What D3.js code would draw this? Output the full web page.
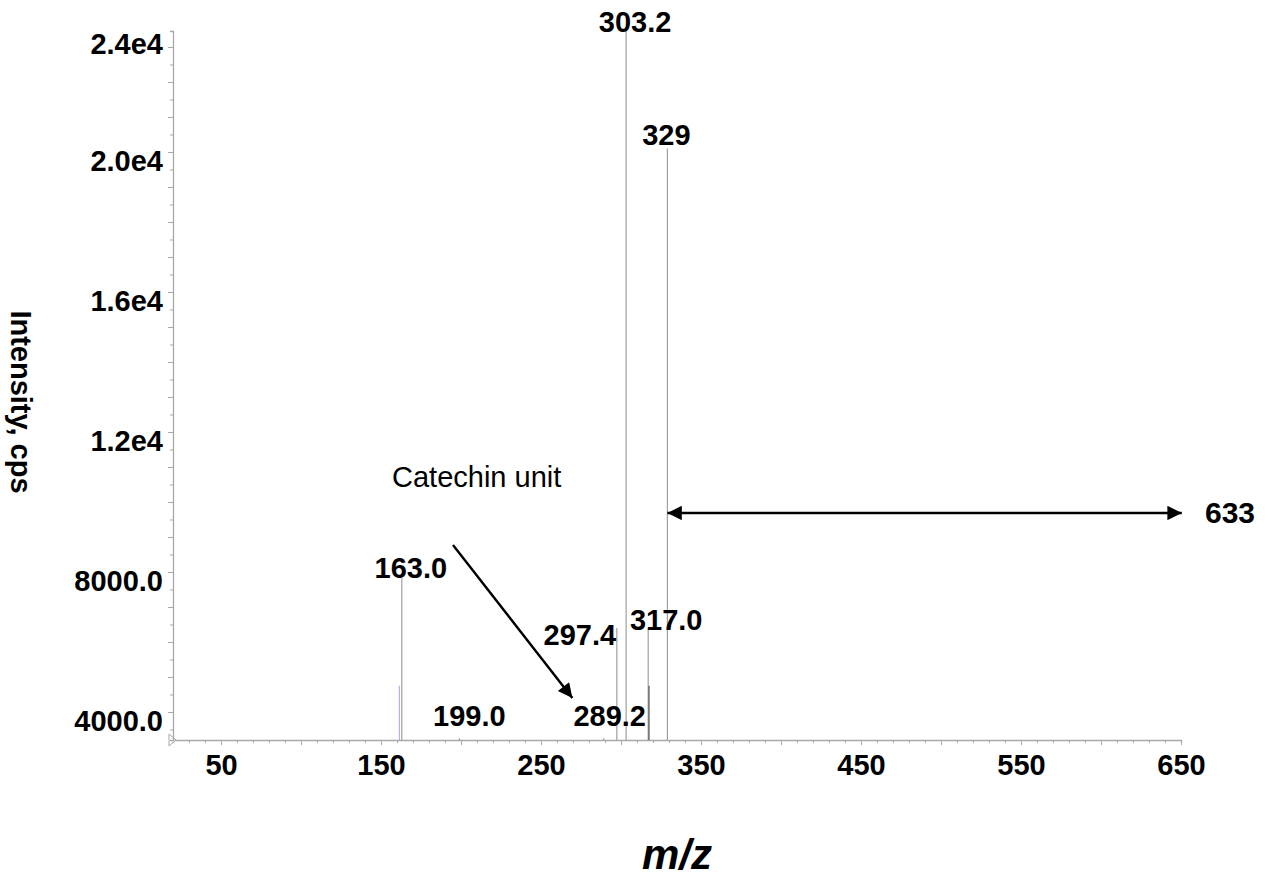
<!DOCTYPE html>
<html>
<head>
<meta charset="utf-8">
<script src="https://cdn.jsdelivr.net/npm/d3@7/dist/d3.min.js"></script>
<style>
  html, body { margin: 0; padding: 0; background: #fff; }
  svg { display: block; font-family: "Liberation Sans", Arial, sans-serif; }
</style>
</head>
<body>
<svg id="chart" width="1276" height="879"></svg>
<script>
// ---- data ----
const peakMz        = [161.5, 163.0, 199.0, 289.2, 297.4, 303.2, 317.0, 317.5, 329.0];
const peakIntensity = [4750, 7830, 3250, 3250, 6400, 23450, 6370, 4750, 20100];
const peakLabels    = ["", "163.0", "199.0", "289.2", "297.4", "303.2", "317.0", "", "329"];
const xTickLabels   = [50, 150, 250, 350, 450, 550, 650];
const yTickLabels   = [4000, 8000, 12000, 16000, 20000, 24000];
const yTickText     = ["4000.0", "8000.0", "1.2e4", "1.6e4", "2.0e4", "2.4e4"];
// annotations (data units)
const catechinArrow = [[195, 8771], [269.6, 4400]];
const rangeArrow    = [[329.0, 9686], [650.5, 9686]];
const catechinText  = {mz: 156.9, intensity: 10429, text: "Catechin unit"};
const rangeText     = {mz: 665, intensity: 9686, text: "633"};

// ---- styling (not data) ----
const peakColors   = ["#b4b4ee", "#a0a0a0", "#a0a0a0", "#a0a0a0", "#a0a0a0", "#a0a0a0", "#a0a0a0", "#555555", "#a0a0a0"];
const labelDx      = [0, 9, 10, 6, -37, 9, 18, 0, -1];
const labelDy      = [0, 0, -12, -12, 17, 1, 1, 0, -3];

const svg = d3.select("#chart");
const x = d3.scaleLinear().domain([20, 650]).range([173, 1181]);
const y = d3.scaleLinear().domain([3200, 23457]).range([740, 31]);
const axisColor = "#a8a8a8";
const fontBold = "bold 29px 'Liberation Sans', Arial, sans-serif";

// x axis
const xMinor = d3.range(30, 651, 10);
const xAxis = d3.axisBottom(x).tickValues(xMinor)
  .tickSize(3).tickFormat("");
const gx = svg.append("g").attr("transform", "translate(0,740)").call(xAxis);
gx.select(".domain").attr("stroke", axisColor).attr("stroke-width", 1.3);
gx.selectAll(".tick line").attr("stroke", axisColor)
  .attr("y2", d => d % 50 === 0 ? 5 : 3);
gx.selectAll(".tick")
  .filter(d => xTickLabels.includes(d))
  .append("text")
  .attr("y", 35).attr("text-anchor", "middle")
  .attr("fill", "#000").style("font", fontBold)
  .text(d => d);
// start marker triangle
svg.append("path")
  .attr("d", `M${x(20)-4},${734} L${x(20)+3},${740} L${x(20)-4},${746} Z`)
  .attr("fill", "#fff").attr("stroke", axisColor).attr("stroke-width", 1);

// y axis
const yMinor = d3.range(3500, 23457, 500);
const yAxis = d3.axisLeft(y).tickValues(yMinor).tickSize(3).tickFormat("");
const gy = svg.append("g").attr("transform", "translate(173,0)").call(yAxis);
gy.select(".domain").attr("stroke", axisColor).attr("stroke-width", 1.3);
gy.selectAll(".tick line").attr("stroke", axisColor)
  .attr("x2", d => d % 1000 === 0 ? -5 : -3);
svg.append("g").selectAll("text").data(yTickLabels).join("text")
  .attr("x", 163)
  .attr("y", d => Math.max(y(d) + 19, y.range()[1] + 23))
  .attr("text-anchor", "end")
  .style("font", fontBold)
  .text((d, i) => yTickText[i]);

// peaks
const peaks = peakMz.map((mz, i) => ({mz, v: peakIntensity[i], label: peakLabels[i], c: peakColors[i], dx: labelDx[i], dy: labelDy[i]}));
svg.append("g").selectAll("line").data(peaks).join("line")
  .attr("x1", d => x(d.mz)).attr("x2", d => x(d.mz))
  .attr("y1", y(3200)).attr("y2", d => y(d.v))
  .attr("stroke", d => d.c).attr("stroke-width", 1.2);
svg.append("g").selectAll("text").data(peaks.filter(d => d.label)).join("text")
  .attr("x", d => x(d.mz) + d.dx)
  .attr("y", d => y(d.v) + d.dy)
  .attr("text-anchor", "middle")
  .style("font", fontBold)
  .text(d => d.label);

// arrow heads
const defs = svg.append("defs");
defs.append("marker").attr("id", "ah")
  .attr("viewBox", "0 0 10 10").attr("refX", 10).attr("refY", 5)
  .attr("markerWidth", 7).attr("markerHeight", 6).attr("markerUnits", "strokeWidth")
  .attr("orient", "auto-start-reverse")
  .append("path").attr("d", "M0,0 L10,5 L0,10 Z").attr("fill", "#000");

const line = d3.line().x(d => x(d[0])).y(d => y(d[1]));
svg.append("path").attr("d", line(catechinArrow))
  .attr("stroke", "#000").attr("stroke-width", 2.4).attr("fill", "none")
  .attr("marker-end", "url(#ah)");
svg.append("path").attr("d", line(rangeArrow))
  .attr("stroke", "#000").attr("stroke-width", 2.4).attr("fill", "none")
  .attr("marker-start", "url(#ah)").attr("marker-end", "url(#ah)");

svg.append("text")
  .attr("x", x(catechinText.mz)).attr("y", y(catechinText.intensity))
  .style("font", "29px 'Liberation Sans', Arial, sans-serif")
  .text(catechinText.text);
svg.append("text")
  .attr("x", x(rangeText.mz)).attr("y", y(rangeText.intensity) + 2)
  .attr("dominant-baseline", "middle")
  .style("font", "bold 30px 'Liberation Sans', Arial, sans-serif")
  .text(rangeText.text);

// axis titles
svg.append("text")
  .attr("transform", "translate(11,402) rotate(90)")
  .attr("text-anchor", "middle")
  .style("font", "bold 29px 'Liberation Sans', Arial, sans-serif")
  .text("Intensity, cps");
svg.append("text")
  .attr("x", 677).attr("y", 869)
  .attr("text-anchor", "middle")
  .style("font", "italic bold 42px 'Liberation Sans', Arial, sans-serif")
  .text("m/z");
</script>
</body>
</html>
